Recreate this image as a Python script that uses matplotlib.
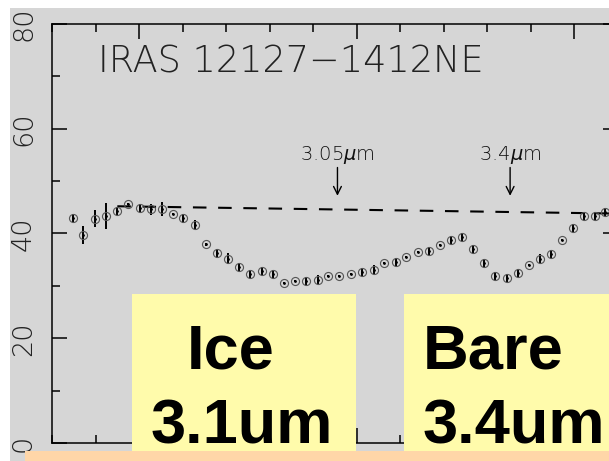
import matplotlib

matplotlib.use("Agg")
import matplotlib.pyplot as plt
import numpy as np
from matplotlib.patches import Rectangle
from matplotlib.ticker import MultipleLocator

W, H = 609, 461

wave = [2.848, 2.872, 2.899, 2.924, 2.949, 2.975, 3.001, 3.027, 3.052, 3.077,
        3.102, 3.129, 3.154, 3.180, 3.205, 3.230, 3.255, 3.282, 3.307, 3.333,
        3.359, 3.384, 3.410, 3.435, 3.460, 3.487, 3.512, 3.539, 3.563, 3.589,
        3.614, 3.640, 3.665, 3.692, 3.717, 3.742, 3.767, 3.793, 3.818, 3.844,
        3.870, 3.895, 3.920, 3.946, 3.972, 3.997, 4.023, 4.048, 4.071]
flux = [43.0, 39.7, 42.8, 43.4, 44.3, 45.6, 44.9, 44.6, 44.7, 43.8,
        42.9, 41.7, 37.9, 36.2, 35.2, 33.6, 32.3, 32.8, 32.3, 30.6,
        30.9, 30.9, 31.2, 31.8, 31.8, 32.2, 32.7, 33.1, 34.3, 34.6,
        35.5, 36.4, 36.6, 37.8, 38.7, 39.3, 37.0, 34.4, 31.9, 31.5,
        32.4, 33.9, 35.2, 36.1, 38.7, 41.0, 43.4, 43.3, 44.1]
err = [0.8, 1.8, 1.6, 2.5, 0.8, 0.2, 0.8, 1.1, 1.3, 0.2,
       0.8, 0.8, 0.2, 0.8, 1.0, 0.8, 0.8, 0.8, 0.8, 0.2,
       0.2, 0.8, 0.8, 0.2, 0.2, 0.2, 0.8, 0.8, 0.2, 0.8,
       0.2, 0.2, 0.8, 0.2, 0.8, 0.8, 0.8, 0.8, 0.8, 0.8,
       0.8, 0.2, 0.8, 0.8, 0.2, 0.8, 0.8, 0.8, 0.8]

# adopted continuum (dashed)
cont_wave = [2.95, 4.10]
cont_flux = [45.2, 43.8]

# rest-frame features, marked at observed wavelength
redshift = 0.133
feature_rest = [3.05, 3.4]
feature_labels = [r"3.05$\mu$m", r"3.4$\mu$m"]

box_lines = [["Ice", "3.1um"], ["Bare", "3.4um"]]

GRAY, YELLOW, PEACH = "#d6d6d6", "#fffbab", "#ffd6a8"


def fx(x):
    return x / W


def fy(y):
    return 1 - y / H


fig = plt.figure(figsize=(W / 100, H / 100), dpi=100, facecolor="white")
fig.add_artist(Rectangle((fx(10), 0), fx(W - 10), fy(8), transform=fig.transFigure,
                         facecolor=GRAY, edgecolor="none", zorder=-5))

ax = fig.add_axes([fx(52), fy(443), (618 - 52) / W, (443 - 24) / H])
ax.set_facecolor("none")
ax.set_xlim(2.8, 4.10)
ax.set_ylim(0, 80)

# spectrum
ax.errorbar(wave, flux, yerr=err, fmt="none", ecolor="black", elinewidth=1.4, capsize=0, zorder=2)
ax.plot(wave, flux, "o", ms=5.8, mfc="none", mec="#555555", mew=0.8, zorder=3)
ax.plot(wave, flux, ".", ms=2.0, color="black", zorder=4)
ax.plot(cont_wave, cont_flux, color="black", lw=1.5, dashes=(6.5, 5.6), zorder=2)

for rest, lab in zip(feature_rest, feature_labels):
    xo = rest * (1 + redshift)
    ax.text(xo, 54.0, lab, ha="center", va="baseline", fontsize=14,
            family="DejaVu Sans", fontweight="light", color="#111111")
    ax.annotate("", xy=(xo, 47.2), xytext=(xo, 52.6),
                arrowprops=dict(arrowstyle="->", lw=1.0, color="black",
                                mutation_scale=14, shrinkA=0, shrinkB=0))

ax.text(0.081, 0.885, "IRAS 12127\u22121412NE", transform=ax.transAxes, ha="left",
        va="baseline", fontsize=26.4, family="DejaVu Sans", fontweight="light", color="#222222")

# axes styling
for s in ax.spines.values():
    s.set_linewidth(1.1)
ax.xaxis.set_major_locator(MultipleLocator(0.5))
ax.xaxis.set_minor_locator(MultipleLocator(0.1))
ax.yaxis.set_major_locator(MultipleLocator(20))
ax.yaxis.set_minor_locator(MultipleLocator(10))
ax.tick_params(which="both", direction="in", top=True, right=True, width=1.1,
               labelbottom=False)
ax.tick_params(which="major", length=10.8)
ax.tick_params(which="minor", length=5.8)
ax.tick_params(axis="y", labelrotation=90, pad=20.5, labelsize=19.5, labelcolor="#222222")
ax.set_yticks([0, 20, 40, 60, 80])
plt.setp(ax.get_yticklabels(), ha="center", va="center", family="DejaVu Sans", fontweight="light")

# highlight boxes
fig.add_artist(Rectangle((fx(132), fy(451)), fx(356 - 132), (451 - 294) / H, transform=fig.transFigure,
                         facecolor=YELLOW, edgecolor="none", zorder=5))
fig.add_artist(Rectangle((fx(404), fy(451)), fx(W - 404), (451 - 294) / H, transform=fig.transFigure,
                         facecolor=YELLOW, edgecolor="none", zorder=5))
fig.add_artist(Rectangle((fx(25), 0), fx(W - 25), (H - 451) / H, transform=fig.transFigure,
                         facecolor=PEACH, edgecolor="none", zorder=5))

bold = dict(fontsize=45.5, fontweight="bold", family="Liberation Sans", color="black",
            ha="left", va="baseline", zorder=6)
fig.text(fx(187), fy(368), box_lines[0][0], **bold)
fig.text(fx(151), fy(443), box_lines[0][1], **bold)
fig.text(fx(423), fy(368), box_lines[1][0], **bold)
fig.text(fx(423), fy(443), box_lines[1][1], **bold)

fig.savefig("out.png", dpi=100, facecolor=fig.get_facecolor())
